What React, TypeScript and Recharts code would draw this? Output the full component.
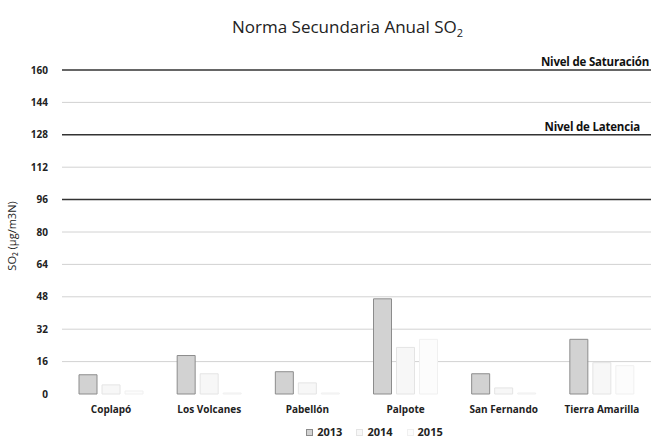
import React from "react";
import {
  BarChart,
  Bar,
  XAxis,
  YAxis,
  CartesianGrid,
  ReferenceLine,
  Legend,
} from "recharts";

const estaciones = ["Coplapó", "Los Volcanes", "Pabellón", "Palpote", "San Fernando", "Tierra Amarilla"];
const valores2013 = [9.5, 19, 11, 47, 10, 27];
const valores2014 = [4.5, 10, 5.5, 23, 3, 15.5];
const valores2015 = [1.5, 0.5, 0.5, 27, 0.5, 14];
const yTicks = [0, 16, 32, 48, 64, 80, 96, 112, 128, 144, 160];
const gridValues = [16, 32, 48, 64, 80, 112, 144];
const niveles = [
  { y: 160, label: "Nivel de Saturación", right: 2 },
  { y: 128, label: "Nivel de Latencia", right: 11 },
  { y: 96, label: "", right: 0 },
];

const data = estaciones.map((name, i) => ({
  name,
  a2013: valores2013[i],
  a2014: valores2014[i],
  a2015: valores2015[i],
}));

const FONT = "'Open Sans', 'Noto Sans', sans-serif";

const series = [
  { key: "a2013", name: "2013", fill: "#d2d2d2", stroke: "#8c8c8c" },
  { key: "a2014", name: "2014", fill: "#f7f7f7", stroke: "#e4e4e4" },
  { key: "a2015", name: "2015", fill: "#fcfcfc", stroke: "#f0f0f0" },
];

const LegendContent = () => (
  <div
    style={{
      display: "flex",
      justifyContent: "center",
      gap: 14,
      fontFamily: FONT,
      fontSize: 11,
      fontWeight: 700,
      color: "#222",
      height: 20,
      lineHeight: "20px",
      paddingLeft: 98,
    }}
  >
    {series.map((s) => (
      <span key={s.key} style={{ display: "flex", alignItems: "center" }}>
        <span
          style={{
            display: "inline-block",
            width: 5,
            height: 5,
            marginRight: 4,
            background: s.fill,
            border: `1px solid ${s.stroke}`,
          }}
        />
        {s.name}
      </span>
    ))}
  </div>
);

const nivelLabel = (text: string, right: number) => (props: any) => {
  const { viewBox } = props;
  if (!viewBox) return null;
  return (
    <text
      x={viewBox.x + viewBox.width - right}
      y={viewBox.y - 4}
      textAnchor="end"
      fontFamily={FONT}
      fontSize={11.5}
      fontWeight={700}
      letterSpacing={-0.2}
      fill="#111"
    >
      {text}
    </text>
  );
};

export default function App() {
  return (
    <div style={{ position: "absolute", left: 0, top: 0, width: 651, height: 442, background: "#fff" }}>
      <div
        style={{
          position: "absolute",
          top: 15,
          left: 0,
          width: 651,
          paddingLeft: 44,
          boxSizing: "border-box",
          textAlign: "center",
          fontFamily: FONT,
          fontSize: 17,
          color: "#222",
        }}
      >
        Norma Secundaria Anual SO<sub style={{ fontSize: 11 }}>2</sub>
      </div>
      <BarChart
        width={651}
        height={442}
        data={data}
        margin={{ top: 70, right: 0, left: 0, bottom: 0 }}
        barCategoryGap={17}
        barGap={5}
      >
        <CartesianGrid horizontal vertical={false} horizontalValues={gridValues} stroke="#d2d2d2" />
        <XAxis
          dataKey="name"
          axisLine={false}
          tickLine={false}
          height={28}
          tickMargin={6}
          tick={{ fontFamily: FONT, fontSize: 10, fontWeight: 700, fill: "#222" }}
        />
        <YAxis
          domain={[0, 160]}
          ticks={yTicks}
          interval={0}
          width={62}
          axisLine={false}
          tickLine={false}
          tickSize={6}
          tickMargin={8}
          tick={{ fontFamily: FONT, fontSize: 10, fontWeight: 700, fill: "#222" }}
          label={{
            value: "SO₂ (µg/m3N)",
            angle: -90,
            position: "insideLeft",
            offset: 12,
            dy: 4,
            style: { fontFamily: FONT, fontSize: 11, fill: "#222", textAnchor: "middle" },
          }}
        />
        {niveles.map((n) => (
          <ReferenceLine
            key={n.y}
            y={n.y}
            stroke="#333"
            strokeWidth={1.5}
            label={n.label ? nivelLabel(n.label, n.right) : undefined}
          />
        ))}
        <Legend verticalAlign="bottom" height={20} content={<LegendContent />} />
        {series.map((s) => (
          <Bar
            key={s.key}
            dataKey={s.key}
            name={s.name}
            fill={s.fill}
            stroke={s.stroke}
            strokeWidth={1}
            isAnimationActive={false}
          />
        ))}
      </BarChart>
    </div>
  );
}
